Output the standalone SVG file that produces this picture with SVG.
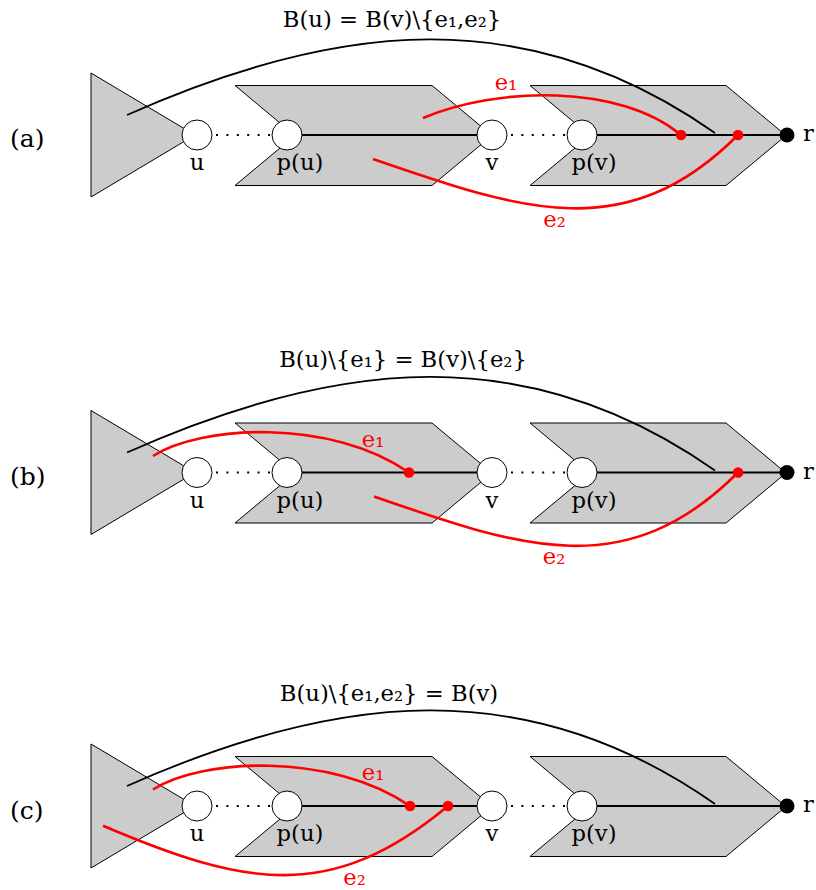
<svg xmlns="http://www.w3.org/2000/svg" width="816" height="890" viewBox="0 0 816 890">
<style>
text{font-family:"DejaVu Serif","Liberation Serif",serif;font-size:22.7px;fill:#000}
.lbl{text-anchor:middle}
.red{fill:#ff0000}
.plabel{font-size:25px}
.gray{fill:#cccccc;stroke:#000;stroke-width:1}
.node{fill:#fff;stroke:#000;stroke-width:1}
.root{fill:#000}
.path{stroke:#000;stroke-width:1.8;fill:none}
.dots{stroke:#000;stroke-width:2;stroke-dasharray:2 8.4;fill:none}
.arc{stroke:#000;stroke-width:1.8;fill:none}
.redarc{stroke:#ff0000;stroke-width:2.6;fill:none}
.rdot{fill:#ff0000}
</style>
<rect width="816" height="890" fill="#fff"/>

<!-- Panel (a) -->
<g id="panel-a">
  <text class="plabel" x="10" y="147">(a)</text>
  <text class="lbl" x="392" y="26.5">B(u) = B(v)\{e₁,e₂}</text>
  <g id="a-subtree-u"><polygon class="gray" points="91,73 195,135 91,197"/></g>
  <g id="a-block-pu"><polygon class="gray" points="235,85.5 432,85.5 492,135.5 432,185.5 235,185.5 295,135.5"/></g>
  <g id="a-block-pv"><polygon class="gray" points="530,85.5 726,85.5 786,135.5 726,185.5 530,185.5 590,135.5"/></g>
  <g id="a-connectors">
    <line class="path" x1="302" y1="135" x2="477" y2="135"/>
    <line class="path" x1="597" y1="135" x2="787" y2="135"/>
    <line class="dots" x1="216" y1="135" x2="272" y2="135"/>
    <line class="dots" x1="511" y1="135" x2="567" y2="135"/>
    <path class="arc" d="M127,115 C337,21.5 527,1 715,133"/>
    <path class="redarc" d="M423,118 C496.6,86.7 619.7,83.6 681,135"/>
    <path class="redarc" d="M373,159 C522,210.4 626,247 738,135"/>
  </g>
  <g id="a-u"><circle class="node" cx="197" cy="135" r="15"/><text class="lbl" x="197" y="170">u</text></g>
  <g id="a-pu"><circle class="node" cx="287" cy="135" r="15"/><text class="lbl" x="300" y="170">p(u)</text></g>
  <g id="a-v"><circle class="node" cx="492" cy="135" r="15"/><text class="lbl" x="492" y="170">v</text></g>
  <g id="a-pv"><circle class="node" cx="582" cy="135" r="15"/><text class="lbl" x="594" y="170">p(v)</text></g>
  <g id="a-r"><circle class="root" cx="787" cy="135" r="7.5"/><text x="803" y="141">r</text></g>
  <g id="a-e1"><circle class="rdot" cx="681" cy="135" r="5.3"/><text class="lbl red" x="506" y="90">e₁</text></g>
  <g id="a-e2"><circle class="rdot" cx="738" cy="135" r="5.3"/><text class="lbl red" x="554.5" y="227">e₂</text></g>
</g>

<!-- Panel (b) -->
<g id="panel-b" transform="translate(0,337.5)">
  <text class="plabel" x="10" y="147.5">(b)</text>
  <text class="lbl" x="403" y="29.5">B(u)\{e₁} = B(v)\{e₂}</text>
  <g id="b-subtree-u"><polygon class="gray" points="91,73 195,135 91,197"/></g>
  <g id="b-block-pu"><polygon class="gray" points="235,85.5 432,85.5 492,135.5 432,185.5 235,185.5 295,135.5"/></g>
  <g id="b-block-pv"><polygon class="gray" points="530,85.5 726,85.5 786,135.5 726,185.5 530,185.5 590,135.5"/></g>
  <g id="b-connectors">
    <line class="path" x1="302" y1="135" x2="477" y2="135"/>
    <line class="path" x1="597" y1="135" x2="787" y2="135"/>
    <line class="dots" x1="216" y1="135" x2="272" y2="135"/>
    <line class="dots" x1="511" y1="135" x2="567" y2="135"/>
    <path class="arc" d="M127,115 C337,21.5 527,1 715,133"/>
    <path class="redarc" d="M153,118.5 C200,88 330,80 409,135"/>
    <path class="redarc" d="M374,159 C522,210.4 626,247 738,135"/>
  </g>
  <g id="b-u"><circle class="node" cx="197" cy="135" r="15"/><text class="lbl" x="197" y="170">u</text></g>
  <g id="b-pu"><circle class="node" cx="287" cy="135" r="15"/><text class="lbl" x="300" y="170">p(u)</text></g>
  <g id="b-v"><circle class="node" cx="492" cy="135" r="15"/><text class="lbl" x="492" y="170">v</text></g>
  <g id="b-pv"><circle class="node" cx="582" cy="135" r="15"/><text class="lbl" x="594" y="170">p(v)</text></g>
  <g id="b-r"><circle class="root" cx="787" cy="135" r="7.5"/><text x="803" y="141">r</text></g>
  <g id="b-e1"><circle class="rdot" cx="409" cy="135" r="5.3"/><text class="lbl red" x="373" y="109">e₁</text></g>
  <g id="b-e2"><circle class="rdot" cx="738" cy="135" r="5.3"/><text class="lbl red" x="554" y="226.5">e₂</text></g>
</g>

<!-- Panel (c) -->
<g id="panel-c" transform="translate(0,671)">
  <text class="plabel" x="10" y="147.5">(c)</text>
  <text class="lbl" x="389" y="29.7">B(u)\{e₁,e₂} = B(v)</text>
  <g id="c-subtree-u"><polygon class="gray" points="91,73 195,135 91,197"/></g>
  <g id="c-block-pu"><polygon class="gray" points="235,85.5 432,85.5 492,135.5 432,185.5 235,185.5 295,135.5"/></g>
  <g id="c-block-pv"><polygon class="gray" points="530,85.5 726,85.5 786,135.5 726,185.5 530,185.5 590,135.5"/></g>
  <g id="c-connectors">
    <line class="path" x1="302" y1="135" x2="477" y2="135"/>
    <line class="path" x1="597" y1="135" x2="787" y2="135"/>
    <line class="dots" x1="216" y1="135" x2="272" y2="135"/>
    <line class="dots" x1="511" y1="135" x2="567" y2="135"/>
    <path class="arc" d="M127,115 C337,21.5 527,1 715,133"/>
    <path class="redarc" d="M153,118.5 C200,88 330,80 410,135"/>
    <path class="redarc" d="M103,154.7 C244,214.7 330,233 448,135"/>
  </g>
  <g id="c-u"><circle class="node" cx="197" cy="135" r="15"/><text class="lbl" x="197" y="170">u</text></g>
  <g id="c-pu"><circle class="node" cx="287" cy="135" r="15"/><text class="lbl" x="300" y="170">p(u)</text></g>
  <g id="c-v"><circle class="node" cx="492" cy="135" r="15"/><text class="lbl" x="492" y="170">v</text></g>
  <g id="c-pv"><circle class="node" cx="582" cy="135" r="15"/><text class="lbl" x="594" y="170">p(v)</text></g>
  <g id="c-r"><circle class="root" cx="787" cy="135" r="7.5"/><text x="803" y="141">r</text></g>
  <g id="c-e1"><circle class="rdot" cx="410" cy="135" r="5.3"/><text class="lbl red" x="373" y="109">e₁</text></g>
  <g id="c-e2"><circle class="rdot" cx="448" cy="135" r="5.3"/><text class="lbl red" x="354.5" y="214">e₂</text></g>
</g>
</svg>
